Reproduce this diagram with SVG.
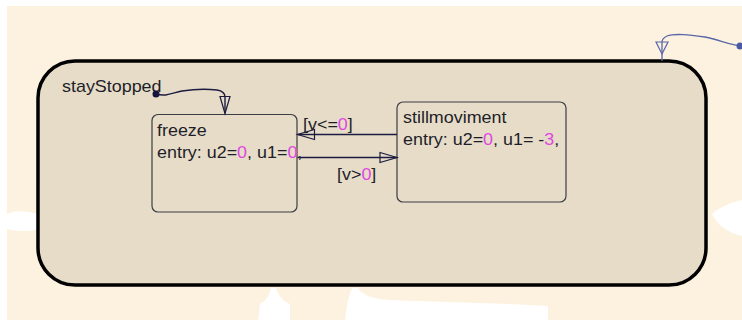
<svg xmlns="http://www.w3.org/2000/svg" width="742" height="322" viewBox="0 0 742 322">
<style>
.t{font-family:"Liberation Sans",Arial,sans-serif;font-size:16px;fill:#1e1e28}
.m{fill:#e048e0}
.box{fill:none;stroke:#3c3c44;stroke-width:1.2}
.tr{fill:none;stroke:#1c1c40;stroke-width:1.4}
.tr2{fill:none;stroke:#5a66a8;stroke-width:1.3}
</style>
<defs>
<marker id="ah" markerUnits="userSpaceOnUse" markerWidth="22" markerHeight="14" viewBox="-20 -7 22 14" refX="0" refY="0" orient="auto" overflow="visible">
<path d="M0,0 L-17,-5 L-17,5 Z" fill="none" stroke="#1c1c40" stroke-width="1.2"/>
</marker>
<marker id="ah2" markerUnits="userSpaceOnUse" markerWidth="22" markerHeight="14" viewBox="-20 -7 22 14" refX="0" refY="0" orient="auto" overflow="visible">
<path d="M0,0 L-12,-6 L-12,6 Z" fill="none" stroke="#5a66a8" stroke-width="1.2"/>
</marker>
</defs>
<rect x="0" y="0" width="742" height="322" fill="#ffffff"/>
<rect x="7" y="6" width="735" height="314" fill="#fdf2df"/>
<g fill="#ffffff">
<path d="M7,214 C15,210 28,211 37,214 L37,230 C26,232 14,231 7,229 Z"/>
<path d="M742,200 C732,202 718,208 712,214 C716,224 728,233 742,236 Z"/>
<path d="M271,288 L276,288 C279,298 285,302 290,304 L290,322 L258,322 L260,304 C266,301 269,296 271,288 Z"/>
<path d="M352,288 L358,288 C362,295 372,299 390,300 C430,302 500,303 548,306 L548,322 L345,322 C346,305 349,296 352,288 Z"/>
</g>
<g id="stayStopped">
<rect x="38" y="61" width="668" height="224" rx="37" ry="37" fill="#e6dcc8" stroke="#000000" stroke-width="3.5"/>
<text class="t" transform="translate(62,92) scale(1.12,1)">stayStopped</text>
</g>
<g id="freeze">
<rect class="box" x="152" y="114.5" width="145" height="97.5" rx="6" ry="6"/>
<text class="t" transform="translate(157,136) scale(1.12,1)">freeze</text>
<text class="t" transform="translate(157,158) scale(1.12,1)">entry: u2=<tspan class="m">0</tspan>, u1=<tspan class="m">0</tspan>,</text>
</g>
<g id="stillmoviment">
<rect class="box" x="397" y="102" width="169" height="100" rx="6" ry="6"/>
<text class="t" transform="translate(403,123) scale(1.12,1)">stillmoviment</text>
<text class="t" transform="translate(403,145) scale(1.12,1)">entry: u2=<tspan class="m">0</tspan>, u1= -<tspan class="m">3</tspan>,</text>
</g>
<g id="connectors">
<circle cx="156" cy="94" r="3.5" fill="#141440"/>
<path class="tr" d="M156,94 C166,97 172,93 182,91 C195,89 208,89 217,90 C223,91 225,94 225,97 L225,113.5" marker-end="url(#ah)"/>
<path class="tr" d="M397,134.5 L297.5,134.5" marker-end="url(#ah)"/>
<path class="tr" d="M297.5,157.5 L397,157.5" marker-end="url(#ah)"/>
<path class="tr2" d="M742,46 C730,45 720,40 705,37 C690,35 675,33 667,36 C663,38 662,40 662,42 L662,54" marker-end="url(#ah2)"/>
<line x1="662" y1="54" x2="662" y2="61" stroke="#5a66a8" stroke-width="1.3"/>
<circle cx="740" cy="46" r="3.5" fill="#4a5aa8"/>
<text class="t" transform="translate(303,130) scale(1.12,1)">[v&lt;=<tspan class="m">0</tspan>]</text>
<text class="t" transform="translate(337,180) scale(1.12,1)">[v&gt;<tspan class="m">0</tspan>]</text>
</g>
</svg>
